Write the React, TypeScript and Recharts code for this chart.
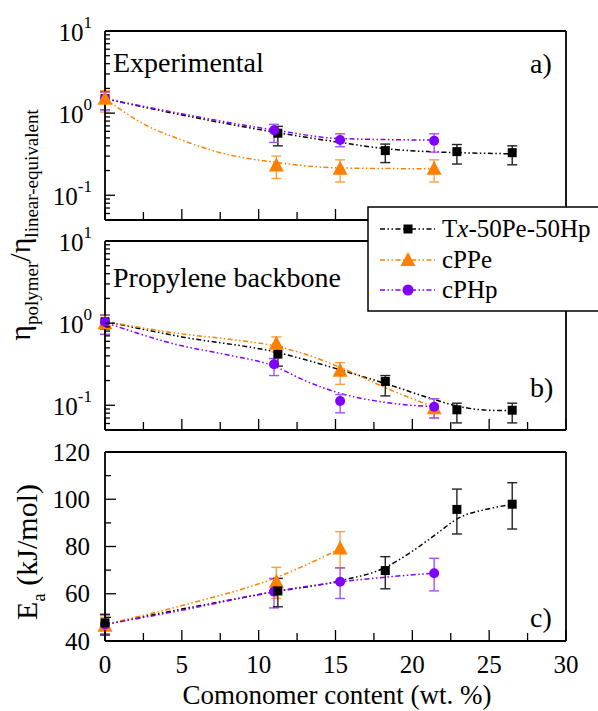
import React from 'react';
import { ComposedChart, Line, Scatter, XAxis, YAxis, ErrorBar } from 'recharts';

const W = 598;
const H = 711;
const PLOT_LEFT = 105;
const PLOT_RIGHT = 566;
const FONT = "'Liberation Serif', 'DejaVu Serif', serif";
const TXT = { fontFamily: FONT };

const BLACK = '#000000';
const ORANGE = '#ff8000';
const PURPLE = '#8000ff';
const BLACK_ERR = '#222222';
const ORANGE_ERR = '#ffa040';
const PURPLE_ERR = '#a450ff';
const DASH = '5 2.5 1.5 2.5 1.5 2.5';

// axis ticks
const xTicks = [0, 2.5, 5, 7.5, 10, 12.5, 15, 17.5, 20, 22.5, 25, 27.5, 30];
const logTicks = [0.05, 0.06, 0.07, 0.08, 0.09, 0.1, 0.2, 0.3, 0.4, 0.5, 0.6, 0.7, 0.8, 0.9, 1, 2, 3, 4, 5, 6, 7, 8, 9, 10];
const logMajor = [0.1, 1, 10];
const logLabels = ['-1', '0', '1'];
const eaTicks = [40, 50, 60, 70, 80, 90, 100, 110, 120];

// a) Experimental
const txA_x = [0, 11.25, 18.24, 22.9, 26.5];
const txA_y = [1.5, 0.57, 0.35, 0.34, 0.33];
const txA_lo = [1.1, 0.4, 0.25, 0.24, 0.235];
const txA_hi = [1.85, 0.69, 0.42, 0.415, 0.4];
const ppeA_x = [0, 11.15, 15.3, 21.42];
const ppeA_y = [1.5, 0.23, 0.21, 0.21];
const ppeA_lo = [1.03, 0.16, 0.145, 0.145];
const ppeA_hi = [1.88, 0.3, 0.27, 0.27];
const phpA_x = [0, 11.0, 15.3, 21.42];
const phpA_y = [1.5, 0.62, 0.47, 0.46];
const phpA_lo = [1.1, 0.44, 0.39, 0.335];
const phpA_hi = [1.8, 0.73, 0.56, 0.56];

const txA_fitX = [0, 5, 11.2, 15.3, 18.2, 21, 23, 26.5];
const txA_fitY = [1.5, 0.95, 0.58, 0.44, 0.37, 0.34, 0.33, 0.32];
const ppeA_fitX = [0, 2.5, 5, 7.5, 11.2, 15.3, 21.4];
const ppeA_fitY = [1.5, 0.74, 0.47, 0.33, 0.25, 0.215, 0.21];
const phpA_fitX = [0, 5, 11.1, 15.3, 21.4];
const phpA_fitY = [1.5, 0.98, 0.62, 0.49, 0.47];

// b) Propylene backbone
const txB_x = [0, 11.25, 18.24, 22.9, 26.5];
const txB_y = [1.04, 0.42, 0.195, 0.088, 0.087];
const txB_lo = [0.85, 0.3, 0.13, 0.061, 0.061];
const txB_hi = [1.25, 0.51, 0.23, 0.106, 0.106];
const ppeB_x = [0, 11.15, 15.3, 21.42];
const ppeB_y = [1.0, 0.56, 0.264, 0.092];
const ppeB_lo = [0.73, 0.45, 0.18, 0.07];
const ppeB_hi = [1.25, 0.68, 0.33, 0.12];
const phpB_x = [0, 11.0, 15.3, 21.42];
const phpB_y = [1.03, 0.316, 0.113, 0.096];
const phpB_lo = [0.73, 0.23, 0.081, 0.07];
const phpB_hi = [1.25, 0.37, 0.135, 0.12];

const txB_fitX = [0, 5, 11.2, 13, 15.3, 18.2, 21.4, 23, 25, 26.5];
const txB_fitY = [1.05, 0.68, 0.44, 0.36, 0.27, 0.185, 0.118, 0.097, 0.087, 0.086];
const ppeB_fitX = [0, 5, 8, 11.2, 13, 15.3, 18.2, 21.4];
const ppeB_fitY = [1.05, 0.74, 0.64, 0.52, 0.42, 0.29, 0.165, 0.095];
const phpB_fitX = [0, 5, 8, 11, 13, 15.3, 18, 21.4];
const phpB_fitY = [1.02, 0.53, 0.41, 0.3, 0.2, 0.14, 0.11, 0.096];

// c) activation energy
const txC_x = [0, 11.25, 18.24, 22.9, 26.5];
const txC_y = [47.7, 61.2, 69.8, 95.7, 97.9];
const txC_lo = [42.5, 54.5, 62.1, 85.3, 87.4];
const txC_hi = [51.3, 66.5, 75.7, 104.3, 107];
const ppeC_x = [0, 11.15, 15.3];
const ppeC_y = [46.5, 65.1, 79.2];
const ppeC_lo = [43, 58, 70.8];
const ppeC_hi = [50, 71.2, 86.3];
const phpC_x = [0, 11.0, 15.3, 21.42];
const phpC_y = [47, 60.9, 65.1, 68.7];
const phpC_lo = [43, 54, 58, 61.2];
const phpC_hi = [51, 66.5, 71, 75];

const txC_fitX = [0, 5, 11.2, 15.3, 18.2, 20, 21.5, 23, 25, 26.5];
const txC_fitY = [47, 53.5, 61, 65.5, 71, 78, 85, 92, 96, 97.8];
const ppeC_fitX = [0, 5, 11.2, 15.3];
const ppeC_fitY = [47, 55, 67, 79];
const phpC_fitX = [0, 5, 11.1, 15.3, 21.4];
const phpC_fitY = [47, 53, 61, 65, 68.7];

const pts = (xs: number[], ys: number[], lo: number[], hi: number[]) =>
  xs.map((x, i) => ({ x, y: ys[i], err: [ys[i] - lo[i], hi[i] - ys[i]] }));
const fit = (xs: number[], ys: number[]) => xs.map((x, i) => ({ x, y: ys[i] }));

const Square = (p: any) => <rect x={p.cx - 4.5} y={p.cy - 4.5} width={9} height={9} fill={BLACK} />;
const Tri = (p: any) => (
  <polygon points={`${p.cx},${p.cy - 8} ${p.cx - 7.5},${p.cy + 6} ${p.cx + 7.5},${p.cy + 6}`} fill={ORANGE} />
);
const Dot = (p: any) => <circle cx={p.cx} cy={p.cy} r={5} fill={PURPLE} />;

const AXIS = { stroke: '#000', strokeWidth: 1.8 };

function XTick(props: any) {
  const { x, y, payload, dir, labels } = props;
  const v = payload.value;
  const major = v % 5 === 0;
  const len = major ? 11 : 8;
  return (
    <g>
      <line x1={x} y1={y} x2={x} y2={y + dir * len} stroke="#000" strokeWidth={1.3} />
      {labels && major && (
        <text x={x} y={y + 32} textAnchor="middle" fontSize={25} style={TXT} fill="#000">
          {v}
        </text>
      )}
    </g>
  );
}

function LogTick(props: any) {
  const { x, y, payload, dir, labels } = props;
  const idx = logMajor.indexOf(payload.value);
  const major = idx >= 0;
  const len = major ? 10 : 5;
  return (
    <g>
      <line x1={x} y1={y} x2={x + dir * len} y2={y} stroke="#000" strokeWidth={1.3} />
      {labels && major && (
        <text x={x - 13} y={y + 10} textAnchor="end" fontSize={25} style={TXT} fill="#000">
          10
          <tspan dy={-13} fontSize={17}>
            {logLabels[idx]}
          </tspan>
        </text>
      )}
    </g>
  );
}

function LinTick(props: any) {
  const { x, y, payload, dir, labels } = props;
  const v = payload.value;
  const major = v % 20 === 0;
  const len = major ? 11 : 6;
  return (
    <g>
      <line x1={x} y1={y} x2={x + dir * len} y2={y} stroke="#000" strokeWidth={1.3} />
      {labels && major && (
        <text x={x - 15} y={y + 8.5} textAnchor="end" fontSize={25} style={TXT} fill="#000">
          {v}
        </text>
      )}
    </g>
  );
}

function Panel({ plotTop, plotBottom, log, xLabels, children }: any) {
  const yProps = log
    ? { scale: 'log' as const, domain: [0.05, 10], ticks: logTicks }
    : { scale: 'linear' as const, domain: [40, 120], ticks: eaTicks };
  const YT = log ? LogTick : LinTick;
  return (
    <div style={{ position: 'absolute', left: 0, top: 0 }}>
      <ComposedChart
        width={W}
        height={H}
        margin={{ top: plotTop - 1, bottom: H - plotBottom - 1, left: PLOT_LEFT - 1, right: W - PLOT_RIGHT - 1 }}
      >
        <XAxis
          dataKey="x"
          type="number"
          domain={[0, 30]}
          ticks={xTicks}
          interval={0}
          height={1}
          tickSize={0}
          tickMargin={0}
          tickLine={false}
          axisLine={AXIS}
          tick={(p: any) => <XTick {...p} dir={-1} labels={xLabels} />}
        />
        <XAxis
          xAxisId="t"
          orientation="top"
          dataKey="x"
          type="number"
          domain={[0, 30]}
          ticks={xTicks}
          interval={0}
          height={1}
          tickSize={0}
          tickMargin={0}
          tickLine={false}
          axisLine={AXIS}
          tick={(p: any) => <XTick {...p} dir={1} labels={false} />}
        />
        <YAxis
          type="number"
          {...yProps}
          interval={0}
          width={1}
          tickSize={0}
          tickMargin={0}
          tickLine={false}
          axisLine={AXIS}
          tick={(p: any) => <YT {...p} dir={1} labels={true} />}
        />
        <YAxis
          yAxisId="r"
          orientation="right"
          type="number"
          {...yProps}
          interval={0}
          width={1}
          tickSize={0}
          tickMargin={0}
          tickLine={false}
          axisLine={AXIS}
          tick={(p: any) => <YT {...p} dir={-1} labels={false} />}
        />
        {children}
      </ComposedChart>
    </div>
  );
}

const fitLine = (key: string, data: any[], color: string) => (
  <Line
    key={key}
    data={data}
    dataKey="y"
    type="monotone"
    stroke={color}
    strokeWidth={1.5}
    strokeDasharray={DASH}
    dot={false}
    activeDot={false}
    isAnimationActive={false}
  />
);

const points = (key: string, data: any[], shape: any, errColor: string) => (
  <Scatter key={key} data={data} dataKey="y" shape={shape} isAnimationActive={false}>
    <ErrorBar dataKey="err" direction="y" width={5} stroke={errColor} strokeWidth={1.4} isAnimationActive={false} />
  </Scatter>
);

function LegendRow({ y, color, marker, label }: any) {
  return (
    <g>
      <line x1={380} y1={y} x2={435} y2={y} stroke={color} strokeWidth={1.5} strokeDasharray={DASH} />
      {marker}
      <text x={442} y={y + 8} fontSize={25} style={TXT} fill="#000">
        {label}
      </text>
    </g>
  );
}

export default function App() {
  return (
    <div style={{ position: 'absolute', left: 0, top: 0, width: W, height: H, background: '#fff', fontFamily: FONT }}>
      <Panel plotTop={31} plotBottom={220} log xLabels={false}>
        {fitLine('ta', fit(txA_fitX, txA_fitY), BLACK)}
        {fitLine('pa', fit(ppeA_fitX, ppeA_fitY), ORANGE)}
        {fitLine('ha', fit(phpA_fitX, phpA_fitY), PURPLE)}
        {points('tap', pts(txA_x, txA_y, txA_lo, txA_hi), Square, BLACK_ERR)}
        {points('hap', pts(phpA_x, phpA_y, phpA_lo, phpA_hi), Dot, PURPLE_ERR)}
        {points('pap', pts(ppeA_x, ppeA_y, ppeA_lo, ppeA_hi), Tri, ORANGE_ERR)}
      </Panel>
      <Panel plotTop={241} plotBottom={430} log xLabels={false}>
        {fitLine('tb', fit(txB_fitX, txB_fitY), BLACK)}
        {fitLine('pb', fit(ppeB_fitX, ppeB_fitY), ORANGE)}
        {fitLine('hb', fit(phpB_fitX, phpB_fitY), PURPLE)}
        {points('tbp', pts(txB_x, txB_y, txB_lo, txB_hi), Square, BLACK_ERR)}
        {points('pbp', pts(ppeB_x, ppeB_y, ppeB_lo, ppeB_hi), Tri, ORANGE_ERR)}
        {points('hbp', pts(phpB_x, phpB_y, phpB_lo, phpB_hi), Dot, PURPLE_ERR)}
      </Panel>
      <Panel plotTop={452} plotBottom={641} log={false} xLabels>
        {fitLine('tc', fit(txC_fitX, txC_fitY), BLACK)}
        {fitLine('pc', fit(ppeC_fitX, ppeC_fitY), ORANGE)}
        {fitLine('hc', fit(phpC_fitX, phpC_fitY), PURPLE)}
        {points('pcp', pts(ppeC_x, ppeC_y, ppeC_lo, ppeC_hi), Tri, ORANGE_ERR)}
        {points('hcp', pts(phpC_x, phpC_y, phpC_lo, phpC_hi), Dot, PURPLE_ERR)}
        {points('tcp', pts(txC_x, txC_y, txC_lo, txC_hi), Square, BLACK_ERR)}
      </Panel>
      <svg width={W} height={H} style={{ position: 'absolute', left: 0, top: 0, pointerEvents: 'none', fontFamily: FONT }}>
        <text x={113} y={72} fontSize={28} style={TXT} fill="#000">Experimental</text>
        <text x={113} y={287} fontSize={28} style={TXT} fill="#000">Propylene backbone</text>
        <text x={530} y={73} fontSize={28} style={TXT} fill="#000">a)</text>
        <text x={530} y={397} fontSize={28} style={TXT} fill="#000">b)</text>
        <text x={530} y={627} fontSize={28} style={TXT} fill="#000">c)</text>
        <text x={337} y={704} fontSize={27} textAnchor="middle" style={TXT} fill="#000">Comonomer content (wt. %)</text>
        <text transform="translate(30,225) rotate(-90)" textAnchor="middle" fontSize={30} style={TXT} fill="#000">
          η<tspan fontSize={19} dy={8}>polymer</tspan>
          <tspan fontSize={30} dy={-8}>/η</tspan>
          <tspan fontSize={19} dy={8}>linear-equivalent</tspan>
        </text>
        <text transform="translate(37,552) rotate(-90)" textAnchor="middle" fontSize={30} style={TXT} fill="#000">
          E<tspan fontSize={19} dy={8}>a</tspan>
          <tspan dy={-8}> (kJ/mol)</tspan>
        </text>
        <rect x={368} y={207} width={240} height={104} fill="#fff" stroke="#000" strokeWidth={1.5} />
        <LegendRow
          y={229}
          color={BLACK}
          label={<>T<tspan fontStyle="italic">x</tspan>-50Pe-50Hp</>}
          marker={<rect x={403.5} y={224.5} width={9} height={9} fill={BLACK} />}
        />
        <LegendRow
          y={260}
          color={ORANGE}
          label="cPPe"
          marker={<polygon points="408,252 400.5,266 415.5,266" fill={ORANGE} />}
        />
        <LegendRow y={290} color={PURPLE} label="cPHp" marker={<circle cx={408} cy={290} r={5.5} fill={PURPLE} />} />
      </svg>
    </div>
  );
}
